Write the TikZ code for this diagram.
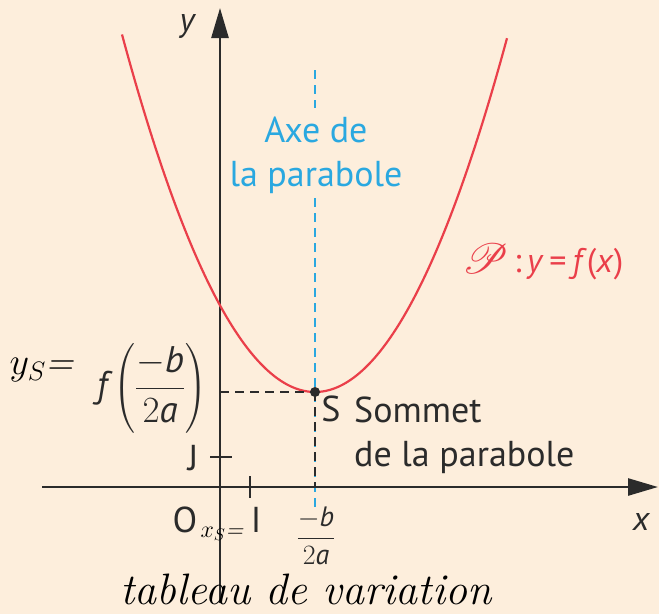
\RequirePackage{fix-cm}
\documentclass[tikz,border=0pt]{standalone}
\usepackage{amsmath}
\usepackage{graphicx}
\usepackage{fontspec}
\usepackage{mathrsfs}
\newfontfamily\ptsans{PT Sans}
\usetikzlibrary{arrows.meta}
\definecolor{bg}{HTML}{FDEEDC}
\definecolor{pred}{HTML}{EA3F4A}
\definecolor{pblue}{HTML}{2AA8E0}
\definecolor{ink}{HTML}{2B2B2B}
\tikzset{
  axis/.style={ink, line width=2.6pt, -{Triangle[length=30pt,width=17pt]}},
  lbl/.style={text=ink, font=\ptsans\fontsize{36}{40}\selectfont, inner sep=0pt},
  lblit/.style={text=ink, font=\ptsans\itshape\fontsize{34}{38}\selectfont, inner sep=0pt},
  bluetxt/.style={text=pblue, font=\ptsans\fontsize{36}{44}\selectfont, inner sep=0pt, align=center},
  hand/.style={text=black, font=\itshape\fontsize{44}{46}\selectfont, inner sep=0pt},
  blackdash/.style={ink, line width=2pt, dash pattern=on 9pt off 6pt},
  bluedash/.style={pblue, line width=2pt, dash pattern=on 9pt off 6pt},
  tick/.style={ink, line width=2.4pt}
}
\begin{document}
\begin{tikzpicture}[x=1pt,y=-1pt]
\fill[bg] (0,0) rectangle (659,614);
\useasboundingbox (0,0) rectangle (659,614);
% key points
\coordinate (O) at (220,487);
\coordinate (xL) at (42,487);
\coordinate (xR) at (658,487);
\coordinate (yB) at (220,603);
\coordinate (yT) at (220,8);
\coordinate (S) at (315,392);
\coordinate (Sy) at (220,392);
\coordinate (Sx) at (315,487);
\coordinate (Bt1) at (315,70);
\coordinate (Bt2) at (315,108);
\coordinate (Bb1) at (315,198);
\coordinate (Bb2) at (315,508);
\coordinate (J1) at (210,457);
\coordinate (J2) at (232,457);
\coordinate (I1) at (250,476);
\coordinate (I2) at (250,498);
% blue axis of symmetry
\draw[bluedash] (Bt1) -- (Bt2);
\draw[bluedash] (Bb1) -- (Bb2);
% axes
\draw[axis] (xL) -- (xR);
\draw[axis] (yB) -- (yT);
% ticks
\draw[tick] (J1) -- (J2);
\draw[tick] (I1) -- (I2);
% parabola
\draw[pred, line width=2.2pt] plot[domain=122:507, samples=120, smooth] (\x, {392-0.0096*(\x-315)*(\x-315)});
% dashed projections
\draw[blackdash] (Sy) -- (S);
\draw[blackdash] (S) -- (Sx);
\fill[ink] (S) circle (5pt);
% labels
\node[lblit] (ly) at (187,26) {y};
\node[lblit] (lx) at (641,522) {x};
\node[lbl] (lO) at (185,520) {O};
\node[lbl] (lI) at (256,520) {I};
\node[lbl] (lJ) at (193,458) {J};
\node[lbl] (lS) at (331,409) {S};
\node[lbl, anchor=west] (lsom) at (354,410) {Sommet};
\node[lbl, anchor=west] (lpar) at (354,457) {de la parabole};
\node[bluetxt] (laxe) at (316,155) {Axe de\\la parabole};
\node[text=pred, font=\ptsans\fontsize{34}{38}\selectfont, inner sep=0pt, anchor=west] (lP) at (462,262)
  {\raisebox{-0.05em}{\scalebox{1.7}{$\mathscr{P}$}}\,:\,\textit{y}\,=\,\textit{f}(\textit{x})};
\node[lbl, font=\ptsans\fontsize{37}{40}\selectfont] (lf) at (152,388) {$\textit{f}\left(\dfrac{-\textit{b}}{2\textit{a}}\right)$};
\node[lbl, font=\ptsans\fontsize{28}{32}\selectfont] (lxs) at (316,536) {$\dfrac{-\textit{b}}{2\textit{a}}$};
% handwritten annotations
\node[hand, font=\itshape\fontsize{38}{40}\selectfont] (hys) at (42,370) {$y_S$=};
\node[hand, font=\itshape\fontsize{24}{28}\selectfont] (hxs) at (222,534) {$x_S$=};
\node[hand] (htab) at (306,589) {tableau de variation};
\end{tikzpicture}
\end{document}
